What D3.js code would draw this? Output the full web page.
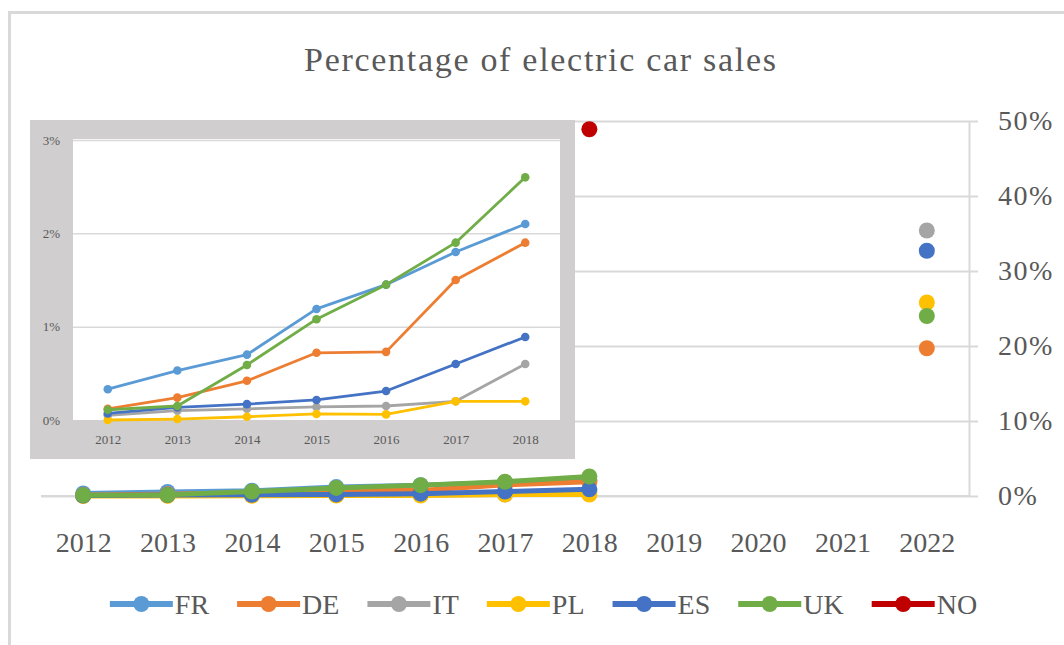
<!DOCTYPE html>
<html>
<head>
<meta charset="utf-8">
<script src="https://cdn.jsdelivr.net/npm/d3@7"></script>
<style>
  html, body { margin: 0; padding: 0; background: #fff; }
  svg { display: block; font-family: "Liberation Serif", "DejaVu Serif", serif; }
</style>
</head>
<body>
<svg id="chart" width="1064" height="645"></svg>
<script>
// ---------- data ----------
const years = ["2012","2013","2014","2015","2016","2017","2018","2019","2020","2021","2022"];
const insetYears = ["2012","2013","2014","2015","2016","2017","2018"];
const countries = ["FR","DE","IT","PL","ES","UK","NO"];
const colors = ["#5B9BD5","#ED7D31","#A5A5A5","#FFC000","#4472C4","#70AD47","#C00000"];

// share of electric car sales (%) 2012..2022 (null = no value)
const FR = [0.33, 0.53, 0.70, 1.19, 1.45, 1.80, 2.10, null, null, null, null];
const DE = [0.12, 0.24, 0.42, 0.72, 0.73, 1.50, 1.90, null, null, null, 19.7];
const IT = [0.05, 0.10, 0.12, 0.14, 0.15, 0.20, 0.60, null, null, null, 35.4];
const PL = [0.00, 0.01, 0.035, 0.065, 0.06, 0.20, 0.20, null, null, null, 25.8];
const ES = [0.07, 0.135, 0.17, 0.215, 0.31, 0.60, 0.89, null, null, null, 32.7];
const UK = [0.11, 0.15, 0.59, 1.08, 1.45, 1.90, 2.60, null, null, null, 24.0];
const NO = [null, null, null, null, null, null, 48.9, null, null, null, null];
const seriesValues = [FR, DE, IT, PL, ES, UK, NO];

const mainTicks = [0, 0.1, 0.2, 0.3, 0.4, 0.5];
const insetTicks = [0, 0.01, 0.02, 0.03];
const title = "Percentage of electric car sales";

// ---------- setup ----------
const svg = d3.select("#chart");
const textColor = "#595959";
const gridColor = "#D9D9D9";

// outer chart border
svg.append("rect").attr("x", 9.5).attr("y", 12.5).attr("width", 1200).attr("height", 800)
  .attr("fill", "none").attr("stroke", "#D9D9D9").attr("stroke-width", 3);

// title
svg.append("text").attr("x", 540).attr("y", 71).attr("text-anchor", "middle")
  .attr("font-size", 34).attr("fill", textColor)
  .attr("textLength", 472).attr("lengthAdjust", "spacing").text(title);

// ---------- main chart ----------
const x = d3.scalePoint().domain(years).range([41, 969]).padding(0.5);
const y = d3.scaleLinear().domain([0, 0.5]).range([496, 121]);

// gridlines
const grid = svg.append("g").attr("transform", "translate(969,0)")
  .call(d3.axisLeft(y).tickValues(mainTicks).tickSize(969 - 41).tickFormat(""));
grid.select(".domain").remove();
grid.selectAll(".tick line").attr("stroke", gridColor).attr("stroke-width", 2);

// right axis
const yAxis = svg.append("g").attr("transform", "translate(969,0)")
  .call(d3.axisRight(y).tickValues(mainTicks).tickSize(9).tickSizeOuter(0).tickPadding(20).tickFormat(d3.format(".0%")));
yAxis.select(".domain").attr("stroke", gridColor).attr("stroke-width", 2);
yAxis.selectAll(".tick line").attr("stroke", gridColor).attr("stroke-width", 2);
yAxis.selectAll("text").attr("font-size", 28).attr("fill", textColor)
  .attr("font-family", "Liberation Serif").attr("letter-spacing", 1.5);

// x axis
const xAxis = svg.append("g").attr("transform", "translate(0,496)")
  .call(d3.axisBottom(x).tickSize(0).tickPadding(36));
xAxis.select(".domain").attr("stroke", gridColor).attr("stroke-width", 2).attr("d", "M41,0H969");
xAxis.selectAll("text").attr("font-size", 28).attr("fill", textColor).attr("font-family", "Liberation Serif");

// ---------- inset ----------
const inset = svg.append("g");
inset.append("rect").attr("x", 30).attr("y", 120).attr("width", 545).attr("height", 339).attr("fill", "#D0CECE");
inset.append("rect").attr("x", 73).attr("y", 139).attr("width", 487).attr("height", 281).attr("fill", "#fff");

const xi = d3.scalePoint().domain(insetYears).range([73, 560]).padding(0.5);
const yi = d3.scaleLinear().domain([0, 0.03]).range([420, 140]);

const igrid = inset.append("g").attr("transform", "translate(560,0)")
  .call(d3.axisLeft(yi).tickValues(insetTicks.slice(1)).tickSize(560 - 73).tickFormat(""));
igrid.select(".domain").remove();
igrid.selectAll(".tick line").attr("stroke", gridColor).attr("stroke-width", 1.5);

const iy = inset.append("g").attr("transform", "translate(60,0)")
  .call(d3.axisLeft(yi).tickValues(insetTicks).tickSize(0).tickPadding(0).tickFormat(d3.format(".0%")));
iy.select(".domain").remove();
iy.selectAll("text").attr("font-size", 13).attr("fill", textColor).attr("font-family", "Liberation Serif");

const ix = inset.append("g").attr("transform", "translate(0,420)")
  .call(d3.axisBottom(xi).tickSize(0).tickPadding(15));
ix.select(".domain").remove();
ix.selectAll("text").attr("font-size", 13).attr("fill", textColor).attr("font-family", "Liberation Serif");

const insetData = countries.map((c, i) => ({
  name: c, color: colors[i],
  pts: insetYears.map((yr, j) => ({ yr, v: seriesValues[i][j] })).filter(p => p.v != null)
})).filter(s => s.name !== "NO");

const iline = d3.line().x(d => xi(d.yr)).y(d => yi(d.v / 100));
insetData.forEach(s => {
  inset.append("path").datum(s.pts).attr("d", iline).attr("fill", "none")
    .attr("stroke", s.color).attr("stroke-width", 2.8).attr("stroke-linejoin", "round");
  inset.selectAll(null).data(s.pts).enter().append("circle")
    .attr("cx", d => xi(d.yr)).attr("cy", d => yi(d.v / 100)).attr("r", 4.3).attr("fill", s.color);
});

// ---------- main series ----------
const mainData = countries.map((c, i) => ({
  name: c, color: colors[i],
  pts: years.map((yr, j) => ({ yr, v: seriesValues[i][j] }))
}));
const mline = d3.line().defined(d => d.v != null).x(d => x(d.yr)).y(d => y(d.v / 100));
mainData.forEach(s => {
  svg.append("path").datum(s.pts).attr("d", mline).attr("fill", "none")
    .attr("stroke", s.color).attr("stroke-width", 5).attr("stroke-linejoin", "round");
  svg.selectAll(null).data(s.pts.filter(d => d.v != null)).enter().append("circle")
    .attr("cx", d => x(d.yr)).attr("cy", d => y(d.v / 100)).attr("r", 8).attr("fill", s.color);
});

// ---------- legend ----------
const legend = svg.append("g").attr("transform", "translate(0,604)");
let cx = 0;
const items = [];
const gap = 28;
countries.forEach((c, i) => {
  const g = legend.append("g");
  g.append("line").attr("x1", 0).attr("x2", 63).attr("y1", 0).attr("y2", 0)
    .attr("stroke", colors[i]).attr("stroke-width", 6);
  g.append("circle").attr("cx", 31.5).attr("cy", 0).attr("r", 8).attr("fill", colors[i]);
  const t = g.append("text").attr("x", 65).attr("y", 10).attr("font-size", 28)
    .attr("fill", textColor).text(c);
  const w = 65 + t.node().getComputedTextLength();
  items.push({ g, x: cx });
  cx += w + gap;
});
const total = cx - gap;
const start = 543.5 - total / 2;
items.forEach(it => it.g.attr("transform", `translate(${start + it.x},0)`));
</script>
</body>
</html>
